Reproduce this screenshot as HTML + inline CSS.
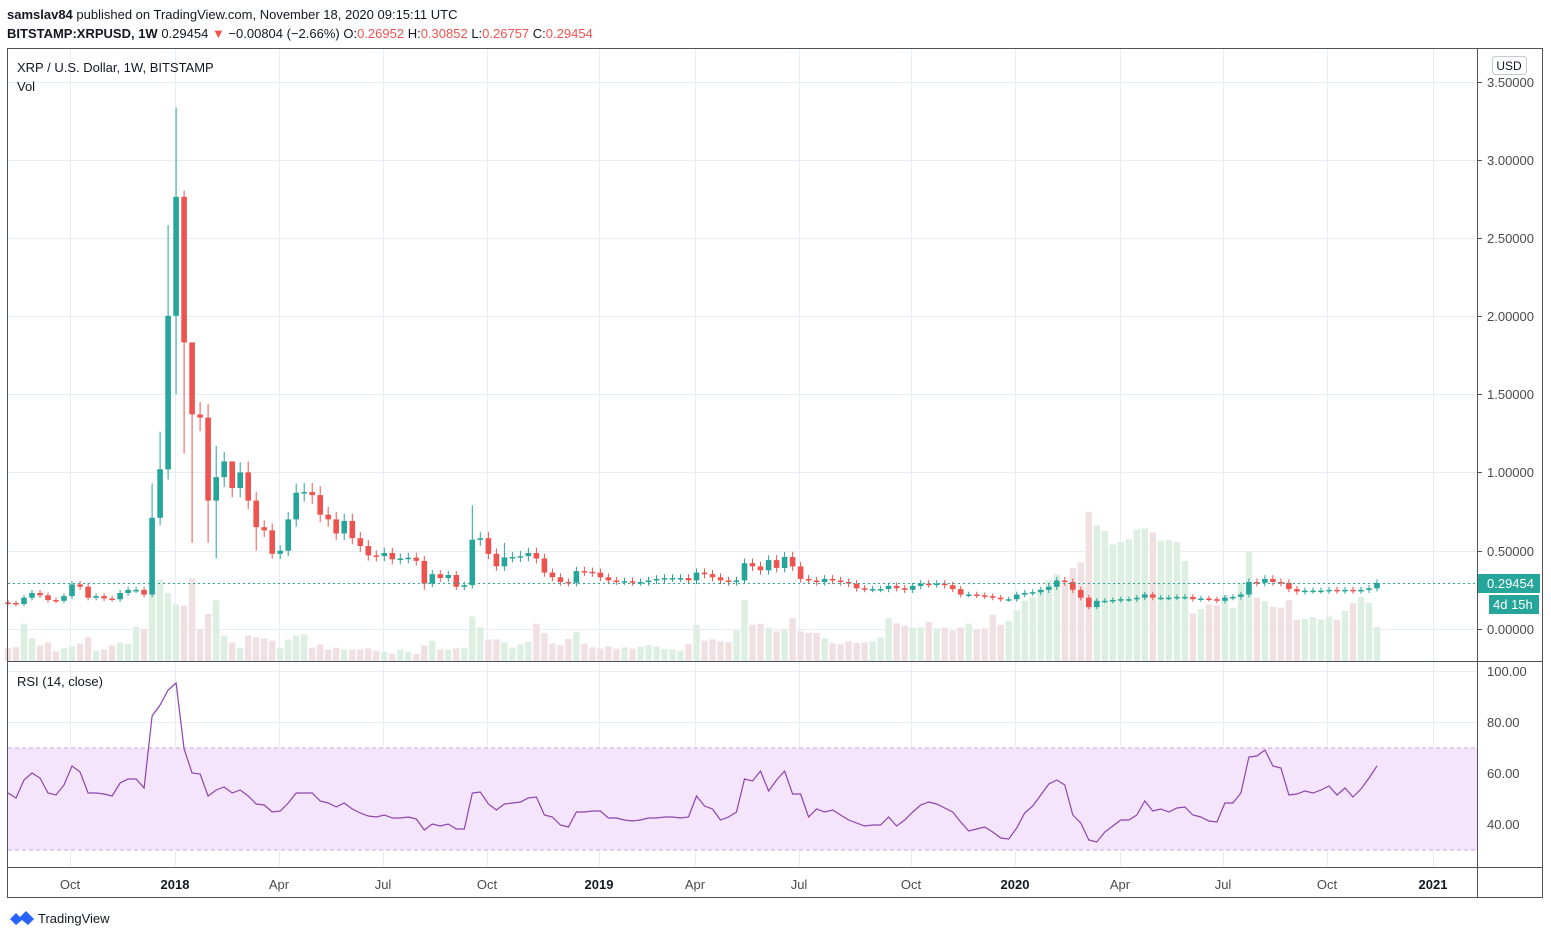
<!DOCTYPE html>
<html><head><meta charset="utf-8"><style>
html,body{margin:0;padding:0;background:#fff;width:1551px;height:939px;overflow:hidden;font-family:"Liberation Sans",Arial,sans-serif}
svg text{font-family:"Liberation Sans",Arial,sans-serif}
</style></head><body>
<svg id="s" width="1551" height="939" xmlns="http://www.w3.org/2000/svg">
<text x="7" y="19" font-size="13" fill="#131722"><tspan font-weight="bold">samslav84</tspan> published on TradingView.com, November 18, 2020 09:15:11 UTC</text>
<text x="7" y="38" font-size="13" fill="#131722"><tspan font-weight="bold">BITSTAMP:XRPUSD, 1W</tspan>  0.29454 <tspan fill="#ef5350">▼</tspan> −0.00804 (−2.66%) O:<tspan fill="#ef5350">0.26952</tspan> H:<tspan fill="#ef5350">0.30852</tspan> L:<tspan fill="#ef5350">0.26757</tspan> C:<tspan fill="#ef5350">0.29454</tspan></text>
<g id="grid"></g>
<rect x="8" y="748" width="1469" height="102" fill="#f4e5fc"/>
<line x1="8" y1="748" x2="1477" y2="748" stroke="#c9a6dc" stroke-dasharray="4,3"/>
<line x1="8" y1="850" x2="1477" y2="850" stroke="#c9a6dc" stroke-dasharray="4,3"/>
<g id="vol"></g>
<g id="cnd"></g>
<line x1="8" y1="583.5" x2="1477" y2="583.5" stroke="#26a69a" stroke-dasharray="2,3"/>
<polyline id="rsi" fill="none" stroke="#8e44ad" stroke-width="1.2"/>
<rect x="7.5" y="48.5" width="1535" height="849" fill="none" stroke="#50535e"/>
<line x1="7" y1="661.5" x2="1543" y2="661.5" stroke="#50535e"/>
<line x1="7" y1="867.5" x2="1543" y2="867.5" stroke="#50535e"/>
<line x1="1477.5" y1="48" x2="1477.5" y2="898" stroke="#50535e"/>
<text x="17" y="72" font-size="13" fill="#131722">XRP / U.S. Dollar, 1W, BITSTAMP</text>
<text x="17" y="91" font-size="13" fill="#131722">Vol</text>
<text x="17" y="686" font-size="13" fill="#131722">RSI (14, close)</text>
<rect x="1492.5" y="56.5" width="34" height="18" rx="3" fill="#fff" stroke="#c5c9d0"/>
<text x="1509" y="70" font-size="12" fill="#131722" text-anchor="middle">USD</text>
<g id="axis" font-size="13" fill="#4a4a4a"></g>
<rect x="1478" y="574" width="62" height="19" fill="#26a69a"/>
<text x="1487" y="588" font-size="13" fill="#fff">0.29454</text>
<rect x="1489" y="595" width="50" height="19" fill="#26a69a"/>
<text x="1493" y="609" font-size="13" fill="#fff">4d 15h</text>
<g transform="translate(10,911)"><path d="M0 8 L6 2 L10 6 L16 0 L24 8 L18 14 L12 9 L6 14 Z" fill="#2962ff"/></g>
<text x="38" y="923" font-size="13" fill="#131722">TradingView</text>
</svg>
<script>
var NS="http://www.w3.org/2000/svg";
function el(p,t,a,txt){var e=document.createElementNS(NS,t);for(var k in a)e.setAttribute(k,a[k]);if(txt!=null)e.textContent=txt;document.getElementById(p).appendChild(e);return e;}
var vx=[70,175,279,383,487,599,695,799,911,1015,1120,1223,1327,1433];
vx.forEach(function(x){el("grid","line",{x1:x+.5,y1:49,x2:x+.5,y2:867,stroke:"#e6edf5"});});
var py=[82,160,238,316,394,472,551,629];
py.forEach(function(y){el("grid","line",{x1:8,y1:y+.5,x2:1477,y2:y+.5,stroke:"#e6edf5"});});
[671,722,773,824].forEach(function(y){el("grid","line",{x1:8,y1:y+.5,x2:1477,y2:y+.5,stroke:"#e6edf5"});});
var pl=["3.50000","3.00000","2.50000","2.00000","1.50000","1.00000","0.50000","0.00000"];
py.forEach(function(y,i){el("axis","text",{x:1487,y:y+5},pl[i]);el("axis","line",{x1:1477,y1:y+.5,x2:1482,y2:y+.5,stroke:"#50535e"});});
[[671,"100.00"],[722,"80.00"],[773,"60.00"],[824,"40.00"]].forEach(function(a){el("axis","text",{x:1487,y:a[0]+5},a[1]);});
var tl=[["Oct",0],["2018",1],["Apr",0],["Jul",0],["Oct",0],["2019",1],["Apr",0],["Jul",0],["Oct",0],["2020",1],["Apr",0],["Jul",0],["Oct",0],["2021",1]];
tl.forEach(function(t,i){el("axis","text",{x:vx[i],y:889,"text-anchor":"middle","font-weight":t[1]?"bold":"normal",fill:t[1]?"#131722":"#4a4a4a"},t[0]);});
var C=[0.166,0.16,0.20,0.23,0.215,0.185,0.18,0.21,0.285,0.27,0.20,0.21,0.195,0.19,0.23,0.25,0.25,0.22,0.71,1.02,2.0,2.76,1.83,1.37,1.35,0.82,0.97,1.07,0.90,1.0,0.82,0.65,0.63,0.48,0.50,0.70,0.87,0.875,0.855,0.73,0.70,0.61,0.69,0.58,0.53,0.47,0.465,0.485,0.445,0.45,0.455,0.435,0.29,0.35,0.325,0.345,0.27,0.28,0.57,0.58,0.48,0.40,0.457,0.46,0.465,
0.485,0.45,0.36,0.33,0.30,0.295,0.37,0.365,0.36,0.33,0.31,0.305,0.305,0.30,0.30,0.31,0.32,0.325,0.325,0.325,0.31,0.36,0.35,0.33,0.31,0.30,0.31,0.42,0.40,0.375,0.44,0.39,0.46,0.40,0.32,0.31,0.30,0.32,0.31,0.30,0.29,0.26,0.255,0.255,0.255,0.275,0.26,0.25,0.275,0.29,0.285,0.29,0.28,0.255,0.22,0.22,0.215,0.21,0.20,0.19,0.19,0.22,0.23,0.235,0.25,0.27,0.31,0.30,0.25,0.20,0.14,0.18,0.18,0.185,0.19,0.19,0.20,0.22,0.20,0.20,0.20,0.205,0.205,0.19,0.195,0.19,0.18,0.20,0.205,0.22,0.30,0.295,0.32,0.30,0.295,0.255,0.24,0.245,0.245,0.245,0.25,0.245,0.25,0.245,0.25,0.26,0.29454];
var n=C.length, sp=(1377-8)/(n-1);
function Y(p){return 629-p*156.6;}
var HW={18:0.93,19:1.26,20:2.58,21:3.33,22:2.8,23:1.5,24:1.45,26:1.17,27:1.13,28:1.03,30:1.07,58:0.79,62:0.55};
var LW={21:1.5,22:1.12,23:0.55,25:0.55,26:0.45,31:0.5,52:0.25,33:0.45};
var VZ=[1510,1508,1444,1484,1503,1495,1519,1511,1506,1498,1481,1517,1514,1503,1495,1498,1452,1458,1262,1325,1362,1392,1395,1322,1458,1418,1381,1476,1495,1509,1476,1481,1484,1490,1509,1487,1476,1473,1509,1500,1514,1509,1514,1514,1514,1511,1517,1520,1525,1514,1520,1526,1503,1490,1514,1514,1511,1509,1425,1454,1487,1487,1495,1509,1500];
var VH=VZ.map(function(z){return (1545-z)/2.703;});
var late=[[527,15],[535,39],[543,30],[551,18],[559,15],[567,20],[575,32],[583,18],[591,14],[599,12],[607,15],[615,12],[623,14],[631,12],[639,14],[647,16],[655,15],[663,12],[671,12],[679,10],[687,12],[695,40],[703,20],[711,22],[719,20],[727,18],[735,22],[743,67],[751,36],[759,38],[767,34],[775,30],[783,28],[791,46],[799,30],[807,28],[815,29],[823,24],[831,18],[839,16],[847,20],[855,18],[863,18],[871,20],[879,18],[887,44],[895,38],[903,36],[911,34],[919,32],[927,41],[935,32],[943,34],[951,30],[959,32],[967,39],[975,32],[983,28],[991,49],[999,36],[1007,38],[1015,48],[1023,60],[1031,62],[1039,70],[1047,78],[1055,91],[1063,72],[1071,96],[1079,83],[1087,153],[1095,136],[1103,134],[1111,116],[1119,119],[1127,119],[1135,131],[1143,133],[1151,131],[1159,120],[1167,121],[1175,120],[1183,116],[1191,47],[1199,50],[1207,58],[1215,51],[1223,71],[1231,50],[1239,64],[1247,123],[1255,64],[1263,61],[1271,56],[1279,49],[1287,67],[1295,41],[1303,41],[1311,45],[1319,40],[1327,46],[1335,39],[1343,48],[1351,56],[1359,64],[1367,64],[1377,34]];
function lateV(x){for(var i=0;i<late.length-1;i++){if(x<=late[i][0])return late[i][1];if(x<late[i+1][0])return late[i][1]+(late[i+1][1]-late[i][1])*(x-late[i][0])/(late[i+1][0]-late[i][0]);}return late[late.length-1][1];}
for(var i=0;i<n;i++){
  var x=8+i*sp, c=C[i], o=i?C[i-1]:0.17; if(i===24)o=1.37;
  var up=c>=o, col=up?"#26a69a":"#ef5350";
  var vh=i<VH.length?VH[i]:lateV(x);
  el("vol","rect",{x:(x-3.2).toFixed(1),y:(661-vh).toFixed(1),width:6.4,height:vh.toFixed(1),fill:up?"#dcefe2":"#f0e0e2"});
  var hi=HW[i]||Math.max(o,c)*1.06+0.005, lo=LW[i]||Math.min(o,c)*0.94-0.005;
  el("cnd","line",{x1:x.toFixed(1),y1:Y(hi).toFixed(1),x2:x.toFixed(1),y2:Y(lo).toFixed(1),stroke:col,"stroke-width":1});
  var t=Y(Math.max(o,c)), b=Y(Math.min(o,c)); if(b-t<1.5){b=t+1.5;}
  el("cnd","rect",{x:(x-2.8).toFixed(1),y:t.toFixed(1),width:5.6,height:(b-t).toFixed(1),fill:col});
}
var R=[793,798,780,773,778,793,795,785,766,772,793,793,794,796,783,779,779,788,716,705,690,683,749,773,774,796,790,787,793,790,796,804,805,812,811,803,793,793,793,801,803,807,803,809,813,816,817,815,818,818,817,819,830,824,826,824,829,829,793,792,804,810,804,803,802,798,797,815,817,825,827,812,812,811,811,818,818,820,821,820,818,818,817,817,818,817,796,806,809,820,817,812,779,781,771,791,780,771,794,794,817,809,812,810,815,820,823,826,825,825,817,826,820,812,805,802,804,808,812,822,831,829,827,832,838,839,828,813,806,795,784,780,785,815,823,840,842,832,826,820,820,815,801,811,809,812,808,807,815,817,821,822,803,803,793,757,756,750,766,768,795,794,791,793,790,786,795,788,797,789,778,766];
var rs=(1377-8)/(R.length-1), pts=[];
R.forEach(function(y,i){pts.push((8+i*rs).toFixed(1)+","+y);});
document.getElementById("rsi").setAttribute("points",pts.join(" "));
</script>
</body></html>
